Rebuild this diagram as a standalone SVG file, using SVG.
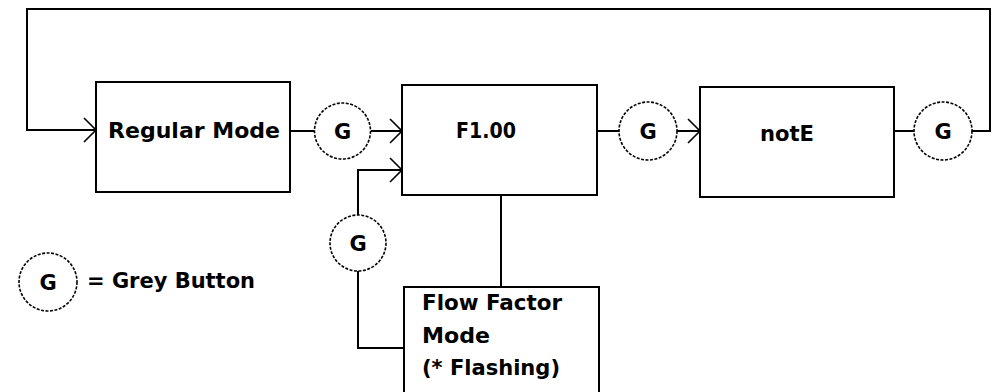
<svg xmlns="http://www.w3.org/2000/svg" width="995" height="392" viewBox="0 0 995 392">
<style>
.box{fill:#fff;stroke:#000;stroke-width:2}
.btn{fill:#fff;stroke:#000;stroke-width:1.6;stroke-dasharray:3 1.5}
.ln{fill:none;stroke:#000;stroke-width:2}
.t{font-family:"DejaVu Sans",sans-serif;font-weight:bold;font-size:22px;fill:#000}
.g{font-family:"DejaVu Sans",sans-serif;font-weight:bold;font-size:21px;fill:#000;text-anchor:middle}
</style>
<defs>
<marker id="arr" markerUnits="userSpaceOnUse" markerWidth="16" markerHeight="28" viewBox="-14 -14 16 28" refX="0" refY="0" orient="auto">
<path d="M-12,-12 L0,0 L-12,12" fill="none" stroke="#000" stroke-width="1.6"/>
</marker>
</defs>
<rect width="995" height="392" fill="#fff"/>
<g id="connectors">
<polyline class="ln" points="972,131 990,131 990,9 27,9 27,130 96,130" marker-end="url(#arr)"/>
<line class="ln" x1="290" y1="131" x2="314" y2="131"/>
<line class="ln" x1="371" y1="131" x2="402" y2="131" marker-end="url(#arr)"/>
<line class="ln" x1="597" y1="131" x2="619" y2="131"/>
<line class="ln" x1="677" y1="131" x2="700" y2="131" marker-end="url(#arr)"/>
<line class="ln" x1="894" y1="131" x2="914" y2="131"/>
<polyline class="ln" points="358,215 358,170 402,170" marker-end="url(#arr)"/>
<polyline class="ln" points="358,271 358,348 404,348"/>
<line class="ln" x1="501" y1="195" x2="501" y2="287"/>
</g>
<g id="regular-mode">
<rect class="box" x="96" y="82" width="194" height="110"/>
<text class="t" x="108" y="138" textLength="172" lengthAdjust="spacingAndGlyphs">Regular Mode</text>
</g>
<g id="f100">
<rect class="box" x="402" y="85" width="195" height="110"/>
<text class="t" x="456" y="138" textLength="60" lengthAdjust="spacingAndGlyphs">F1.00</text>
</g>
<g id="note">
<rect class="box" x="700" y="87" width="194" height="110"/>
<text class="t" x="760" y="141" textLength="54" lengthAdjust="spacingAndGlyphs">notE</text>
</g>
<g id="flow-factor-mode">
<rect class="box" x="404" y="287" width="195" height="120"/>
<text class="t" x="422" y="310" textLength="140" lengthAdjust="spacingAndGlyphs">Flow Factor</text>
<text class="t" x="422" y="343" textLength="68" lengthAdjust="spacingAndGlyphs">Mode</text>
<text class="t" x="422" y="375" textLength="138" lengthAdjust="spacingAndGlyphs">(* Flashing)</text>
</g>
<g id="g1">
<circle class="btn" cx="342.5" cy="131" r="28"/>
<text class="g" x="342.5" y="138.5">G</text>
</g>
<g id="g2">
<circle class="btn" cx="358" cy="243" r="28"/>
<text class="g" x="358" y="250.5">G</text>
</g>
<g id="g3">
<circle class="btn" cx="648" cy="131" r="29"/>
<text class="g" x="648" y="138.5">G</text>
</g>
<g id="g4">
<circle class="btn" cx="943" cy="131" r="29"/>
<text class="g" x="943" y="138.5">G</text>
</g>
<g id="legend">
<circle class="btn" cx="48" cy="282" r="29"/>
<text class="g" x="48" y="289.5">G</text>
<text class="t" x="87" y="288" textLength="168" lengthAdjust="spacingAndGlyphs">= Grey Button</text>
</g>
</svg>
